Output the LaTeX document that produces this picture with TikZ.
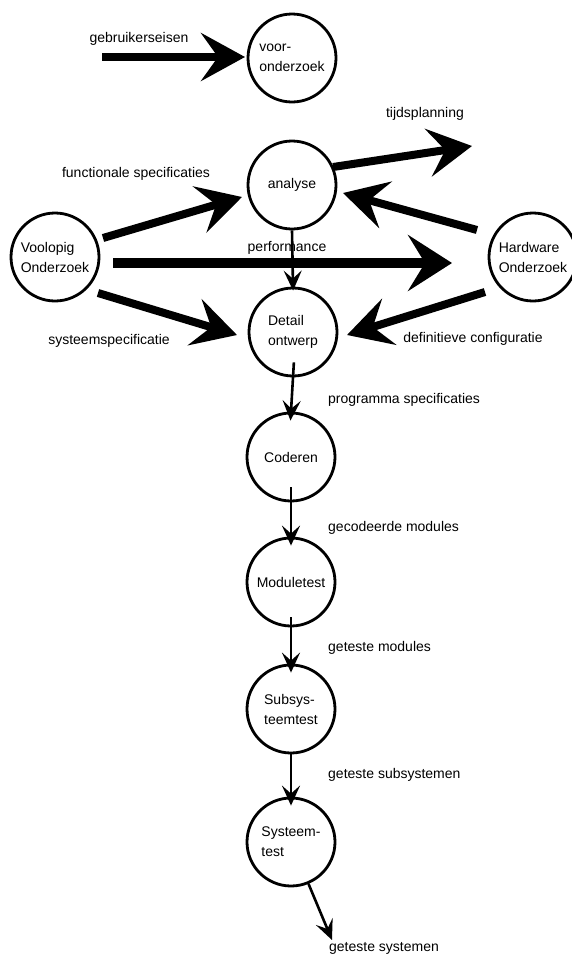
\documentclass[tikz,border=0pt]{standalone}
\usepackage{fontspec}
\setmainfont{Liberation Sans}
\usetikzlibrary{arrows.meta, positioning, calc}
\definecolor{fcink}{HTML}{000000}
\definecolor{fcbg}{HTML}{FFFFFF}
\tikzset{
  proc/.style={circle, draw=fcink, line width=2.8pt, minimum size=88pt, inner sep=0pt,
              align=left, text=fcink, font=\fontsize{14}{20}\selectfont},
  lbl/.style={text=fcink, font=\fontsize{14}{20}\selectfont, inner sep=0pt},
  flow/.style={-{Stealth[length=44pt, width=48pt, inset=17pt]}, draw=fcink, line width=8pt},
  flowmain/.style={-{Stealth[length=44pt, width=56pt, inset=17pt]}, draw=fcink, line width=10pt},
  chain/.style={-{Stealth[length=20pt, width=18pt, inset=8pt]}, draw=fcink, line width=2.6pt},
}
\begin{document}
\begin{tikzpicture}[x=1pt,y=-1pt]
    \fill[fcbg] (0,0) rectangle (571,956);
    \useasboundingbox (0,0) rectangle (571,956);
    \node[proc] (voor)     at (292,58)  {voor-\\onderzoek};
    \node[proc] (analyse)  at (292,185) {analyse};
    \node[proc] (voolopig) at (55,257)  {Voolopig\\Onderzoek};
    \node[proc] (hardware) at (533,257) {Hardware\\Onderzoek};
    \node[proc] (detail)   at (293,332) {Detail\\ontwerp};
    \node[proc] (coderen)  at (291,457) {Coderen};
    \node[proc] (module)   at (291,582) {Moduletest};
    \node[proc] (subsys)   at (291,709) {Subsys-\\teemtest};
    \node[proc] (systeem)  at (291,842) {Systeem-\\test};
    \node[lbl] (l-gebr)  at (139,39)  {gebruikerseisen};
    \node[lbl] (l-tijd)  at (425,114) {tijdsplanning};
    \node[lbl] (l-func)  at (136,174) {functionale specificaties};
    \node[lbl] (l-perf)  at (287,248) {performance};
    \node[lbl] (l-syss)  at (109,341) {systeemspecificatie};
    \node[lbl] (l-defc)  at (473,339) {definitieve configuratie};
    \node[lbl, anchor=west] (l-prog) at (328,400) {programma specificaties};
    \node[lbl, anchor=west] (l-gmod) at (328,528) {gecodeerde modules};
    \node[lbl, anchor=west] (l-tmod) at (328,648) {geteste modules};
    \node[lbl, anchor=west] (l-tsub) at (328,775) {geteste subsystemen};
    \node[lbl] (l-tsys)  at (384,948) {geteste systemen};
    \coordinate (gebr) at (102,57);
    \coordinate (tijd) at (472,146);
    \coordinate (uit)  at (332,940);
    \draw[flow] (gebr) -- ([shift={(-47,-1)}]voor.center);
    \draw[flow] ([shift={(48,-19)}]voolopig.center) -- ([shift={(-50,12)}]analyse.center);
    \draw[flowmain] ([shift={(58,6)}]voolopig.center) -- ([shift={(-81,6)}]hardware.center);
    \draw[flow] ([shift={(43,36)}]voolopig.center) -- ([shift={(-56,3)}]detail.center);
    \draw[flow] ([shift={(41,-18)}]analyse.center) -- (tijd);
    \draw[flow] ([shift={(-56,-27)}]hardware.center) -- ([shift={(51,8)}]analyse.center);
    \draw[flow] ([shift={(-48,35)}]hardware.center) -- ([shift={(54,3)}]detail.center);
    \draw[chain, shorten >=-4pt] (analyse.south) -- (detail.north);
    \draw[chain, shorten <=-15pt, shorten >=-9pt] (detail.south) -- (coderen.north);
    \draw[chain, shorten <=-15pt, shorten >=-9pt] (coderen.south) -- (module.north);
    \draw[chain, shorten <=-10pt, shorten >=-9pt] (module.south) -- (subsys.north);
    \draw[chain, shorten >=-9pt] (subsys.south) -- (systeem.north);
    \draw[chain] (systeem) -- (uit);
  \end{tikzpicture}
\end{document}
